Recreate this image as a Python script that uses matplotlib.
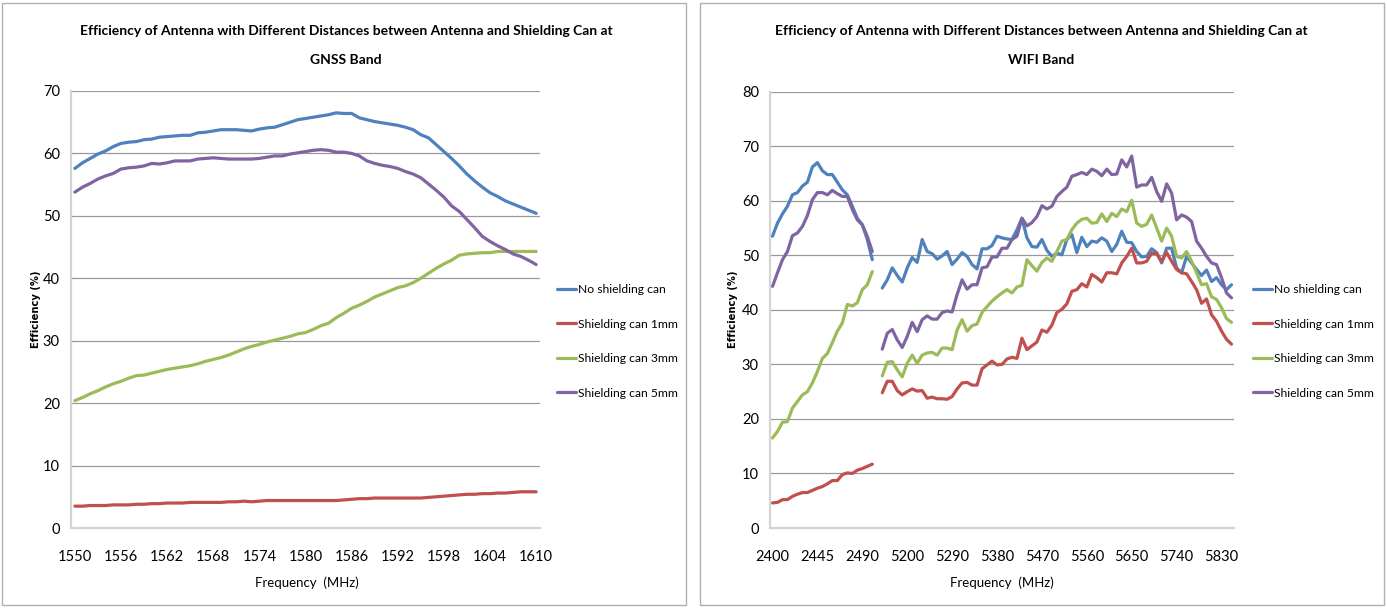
import numpy as np
import matplotlib
matplotlib.use("Agg")
import matplotlib.pyplot as plt
from matplotlib.patches import Rectangle

# ---------------- data ----------------
series_names = ["No shielding can", "Shielding can 1mm", "Shielding can 3mm", "Shielding can 5mm"]
series_colors = ["#4F81BD", "#C0504D", "#9BBB59", "#8064A2"]

# GNSS band: 1550..1610 MHz, 1 MHz step
gnss_freq = list(range(1550, 1611))
gnss_no_can = [57.6, 58.5, 59.2, 59.9, 60.4, 61.1, 61.6, 61.8, 61.9, 62.2,
               62.3, 62.6, 62.7, 62.8, 62.9, 62.9, 63.3, 63.4, 63.6, 63.8,
               63.8, 63.8, 63.7, 63.6, 63.9, 64.1, 64.2, 64.6, 65.0, 65.4,
               65.6, 65.8, 66.0, 66.2, 66.5, 66.4, 66.4, 65.7, 65.4, 65.1,
               64.9, 64.7, 64.5, 64.2, 63.8, 63.0, 62.5, 61.4, 60.3, 59.2,
               58.0, 56.7, 55.6, 54.6, 53.7, 53.1, 52.4, 51.9, 51.4, 50.9, 50.4]
gnss_1mm = [3.5, 3.5, 3.6, 3.6, 3.6, 3.7, 3.7, 3.7, 3.8, 3.8,
            3.9, 3.9, 4.0, 4.0, 4.0, 4.1, 4.1, 4.1, 4.1, 4.1,
            4.2, 4.2, 4.3, 4.2, 4.3, 4.4, 4.4, 4.4, 4.4, 4.4,
            4.4, 4.4, 4.4, 4.4, 4.4, 4.5, 4.6, 4.7, 4.7, 4.8,
            4.8, 4.8, 4.8, 4.8, 4.8, 4.8, 4.9, 5.0, 5.1, 5.2,
            5.3, 5.4, 5.4, 5.5, 5.5, 5.6, 5.6, 5.7, 5.8, 5.8, 5.8]
gnss_3mm = [20.4, 20.9, 21.5, 22.0, 22.6, 23.1, 23.5, 24.0, 24.4, 24.5,
            24.8, 25.1, 25.4, 25.6, 25.8, 26.0, 26.3, 26.7, 27.0, 27.3,
            27.7, 28.2, 28.7, 29.1, 29.4, 29.8, 30.1, 30.4, 30.7, 31.1,
            31.3, 31.8, 32.4, 32.8, 33.7, 34.4, 35.2, 35.7, 36.3, 37.0,
            37.5, 38.0, 38.5, 38.8, 39.3, 40.0, 40.8, 41.6, 42.3, 42.9,
            43.7, 43.9, 44.0, 44.1, 44.1, 44.3, 44.3, 44.3, 44.3, 44.3, 44.3]
gnss_5mm = [53.8, 54.6, 55.2, 55.9, 56.4, 56.8, 57.5, 57.7, 57.8, 58.0,
            58.4, 58.3, 58.5, 58.8, 58.8, 58.8, 59.1, 59.2, 59.3, 59.2,
            59.1, 59.1, 59.1, 59.1, 59.2, 59.4, 59.6, 59.6, 59.9, 60.1,
            60.3, 60.5, 60.6, 60.5, 60.2, 60.2, 60.0, 59.6, 58.8, 58.4,
            58.1, 57.9, 57.6, 57.1, 56.7, 56.1, 55.1, 54.1, 53.0, 51.6,
            50.7, 49.4, 48.1, 46.7, 45.9, 45.2, 44.6, 43.9, 43.5, 42.9, 42.2]
gnss_ticks = [1550, 1556, 1562, 1568, 1574, 1580, 1586, 1592, 1598, 1604, 1610]

# WIFI band: 2400..2500 (5 MHz step), blank category, 5150..5850 (10 MHz step)
wifi24_freq = list(range(2400, 2501, 5))
wifi5_freq = list(range(5150, 5851, 10))
wifi24_no_can = [53.5, 55.9, 57.6, 59.0, 61.1, 61.5, 62.7, 63.4, 66.2, 67.0,
                 65.5, 64.8, 64.8, 63.4, 62.0, 61.1, 59.0, 56.8, 55.6, 52.9, 49.2]
wifi24_1mm = [4.6, 4.7, 5.2, 5.2, 5.8, 6.2, 6.5, 6.5, 6.9, 7.3,
              7.6, 8.1, 8.7, 8.7, 9.8, 10.1, 10.0, 10.6, 10.9, 11.3, 11.7]
wifi24_3mm = [16.5, 17.7, 19.4, 19.5, 22.0, 23.2, 24.4, 25.0, 26.6, 28.7,
              31.1, 32.0, 34.0, 36.1, 37.6, 41.0, 40.7, 41.3, 43.7, 44.6, 47.0]
wifi24_5mm = [44.3, 46.8, 49.2, 50.7, 53.6, 54.1, 55.3, 57.3, 60.2, 61.5,
              61.5, 61.1, 61.9, 61.3, 60.8, 60.8, 58.4, 56.5, 55.6, 53.5, 50.7]
wifi5_no_can = [44.0, 45.5, 47.7, 46.3, 45.1, 47.7, 49.6, 48.7, 52.9, 50.7,
                50.3, 49.3, 49.9, 50.7, 48.3, 49.3, 50.5, 49.8, 48.3, 47.5,
                51.2, 51.2, 51.8, 53.5, 53.2, 53.0, 52.9, 54.7, 56.8, 53.2,
                51.6, 51.5, 52.9, 50.9, 49.8, 50.4, 50.1, 52.9, 53.8, 50.5,
                53.3, 51.6, 52.6, 52.4, 53.2, 52.6, 50.7, 52.0, 54.4, 52.4,
                52.3, 50.7, 49.7, 49.8, 51.2, 50.5, 48.6, 51.3, 51.3, 47.7,
                46.8, 49.8, 48.6, 47.4, 46.3, 47.3, 45.2, 45.9, 44.6, 43.7, 44.6]
wifi5_1mm = [24.8, 26.9, 26.9, 25.2, 24.4, 25.0, 25.5, 25.1, 25.2, 23.8,
             24.0, 23.7, 23.7, 23.6, 24.1, 25.5, 26.6, 26.7, 26.2, 26.2,
             29.2, 29.9, 30.6, 29.9, 30.0, 31.0, 31.3, 31.1, 34.8, 32.7,
             33.4, 34.1, 36.3, 35.9, 37.2, 39.5, 40.1, 41.1, 43.4, 43.7,
             44.8, 44.2, 46.5, 45.9, 45.1, 46.8, 46.8, 46.6, 48.6, 49.8,
             51.3, 48.6, 48.6, 48.9, 50.4, 50.3, 48.9, 50.5, 48.9, 47.4,
             46.8, 46.6, 45.2, 43.7, 41.2, 42.0, 39.1, 37.9, 36.1, 34.6, 33.7]
wifi5_3mm = [27.9, 30.4, 30.5, 29.0, 27.7, 30.2, 31.7, 30.2, 31.7, 32.1,
             32.2, 31.7, 33.0, 33.0, 32.7, 36.3, 38.2, 36.1, 37.1, 37.4,
             39.5, 40.6, 41.6, 42.4, 43.1, 43.7, 43.1, 44.2, 44.5, 49.2,
             48.1, 47.1, 48.7, 49.5, 48.9, 50.7, 52.6, 52.9, 54.7, 55.9,
             56.6, 56.8, 55.9, 56.0, 57.6, 56.2, 57.7, 57.1, 58.5, 58.0,
             60.1, 55.9, 55.3, 55.7, 57.4, 55.0, 52.6, 55.0, 53.5, 49.8,
             49.5, 50.7, 48.9, 46.8, 44.6, 44.8, 42.4, 41.9, 40.4, 38.4, 37.7]
wifi5_5mm = [32.8, 35.7, 36.4, 34.5, 33.1, 35.1, 37.7, 36.0, 38.2, 38.9,
             38.3, 38.3, 39.5, 39.8, 39.6, 42.8, 45.5, 43.8, 44.6, 44.6,
             47.7, 47.9, 49.7, 49.7, 51.3, 51.3, 52.9, 53.5, 56.8, 55.4,
             56.0, 57.1, 59.1, 58.5, 59.0, 60.8, 61.7, 62.5, 64.5, 64.8,
             65.2, 64.8, 65.8, 65.4, 64.6, 65.8, 64.8, 64.9, 67.5, 66.2,
             68.2, 62.5, 62.9, 62.9, 64.3, 61.7, 59.9, 63.1, 61.4, 56.5,
             57.4, 57.0, 56.2, 52.6, 51.3, 49.8, 48.6, 48.3, 45.9, 43.1, 42.2]

gnss_series = [gnss_no_can, gnss_1mm, gnss_3mm, gnss_5mm]
wifi24_series = [wifi24_no_can, wifi24_1mm, wifi24_3mm, wifi24_5mm]
wifi5_series = [wifi5_no_can, wifi5_1mm, wifi5_3mm, wifi5_5mm]

# ---------------- style ----------------
NARROW = ["Lato", "Liberation Sans", "DejaVu Sans"]
W, H = 1387, 608
fig = plt.figure(figsize=(W / 100, H / 100), dpi=100)
fig.patch.set_facecolor("white")

# panel frames
for x0, x1 in [(2, 686), (700, 1384)]:
    fig.add_artist(Rectangle((x0 / W, 1 - 605 / H), (x1 - x0) / W, 602 / H,
                             transform=fig.transFigure, fill=False,
                             edgecolor="#b0b0b0", lw=1.0))


def style_axes(ax, ymax):
    ax.set_ylim(0, ymax)
    ax.set_yticks(range(0, ymax + 1, 10))
    ax.grid(axis="y", color="#9a9a9a", lw=0.9)
    ax.set_axisbelow(True)
    for s in ["top", "right"]:
        ax.spines[s].set_visible(False)
    ax.spines["left"].set_color("#d4d4d4")
    ax.spines["left"].set_linewidth(1.6)
    ax.spines["bottom"].set_color("#d4d4d4")
    ax.spines["bottom"].set_linewidth(1.6)
    ax.tick_params(length=0, labelsize=10.5, pad=8)
    ax.tick_params(axis="x", pad=16)
    for lab in ax.get_xticklabels() + ax.get_yticklabels():
        lab.set_family(NARROW)


# ---------------- GNSS panel ----------------
ax1 = fig.add_axes([71 / W, 1 - 528 / H, (540 - 71) / W, (528 - 91) / H])
gx = np.arange(len(gnss_freq))
for vals, name, col in zip(gnss_series, series_names, series_colors):
    ax1.plot(gx, vals, color=col, lw=2.3, label=name, solid_capstyle="round")
ax1.set_xlim(-0.5, len(gnss_freq) - 0.5)
ax1.set_xticks([gnss_freq.index(t) for t in gnss_ticks])
ax1.set_xticklabels([str(t) for t in gnss_ticks])
style_axes(ax1, 70)

# ---------------- WIFI panel ----------------
ax2 = fig.add_axes([770 / W, 1 - 528 / H, (1234 - 770) / W, (528 - 91.7) / H])
wifi_cats = [str(f) for f in wifi24_freq] + [""] + [str(f) for f in wifi5_freq]
for v24, v5, name, col in zip(wifi24_series, wifi5_series, series_names, series_colors):
    y = list(v24) + [np.nan] + list(v5)
    ax2.plot(np.arange(len(wifi_cats)), y, color=col, lw=2.3, label=name,
             solid_capstyle="round")
ax2.set_xlim(-0.5, len(wifi_cats) - 0.5)
tick_idx = list(range(0, len(wifi_cats), 9))
ax2.set_xticks(tick_idx)
ax2.set_xticklabels([wifi_cats[i] for i in tick_idx])
style_axes(ax2, 80)

# ---------------- titles, labels, legends ----------------
title1 = "Efficiency of Antenna with Different Distances between Antenna and Shielding Can at"
for cx, band in [(346, "GNSS Band"), (1041, "WIFI Band")]:
    fig.text(cx / W, 1 - 31 / H, title1, ha="center", va="center",
             fontsize=10, fontweight="bold", family=NARROW)
    fig.text(cx / W, 1 - 60 / H, band, ha="center", va="center",
             fontsize=10, fontweight="bold", family=NARROW)

for cx, cy in [(36, 309), (733, 309)]:
    fig.text(cx / W, 1 - cy / H, "Efficiency (%)", rotation=90, ha="center",
             va="center", fontsize=7.2, fontweight="bold", family="DejaVu Sans")

for cx in [307, 1002]:
    fig.text(cx / W, 1 - 583 / H, "Frequency  (MHz)", ha="center", va="center",
             fontsize=9.5, family=NARROW)

for ax, lx in [(ax1, 557), (ax2, 1253)]:
    leg = ax.legend(loc="upper left", bbox_to_anchor=(lx / W, 1 - 284 / H),
                    bbox_transform=fig.transFigure, frameon=False,
                    prop={"family": NARROW, "size": 8.7},
                    handlelength=1.6, handletextpad=0.1, labelspacing=1.95,
                    borderpad=0, borderaxespad=0)

fig.savefig("out.png", dpi=100, facecolor="white")
